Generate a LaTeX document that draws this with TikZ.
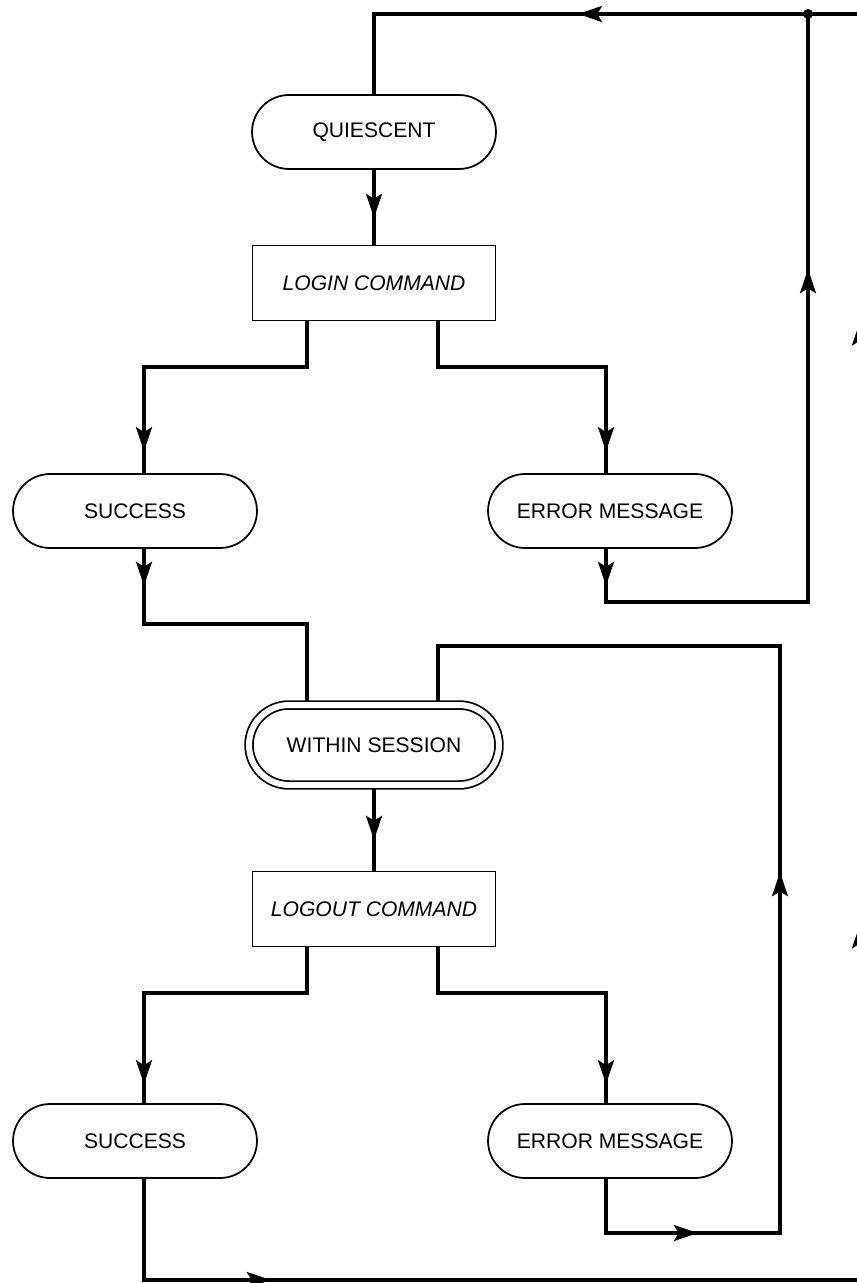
\documentclass[tikz,border=0pt]{standalone}
\usepackage{fontspec}
\setmainfont{Liberation Sans}
\usepackage{tikz}
\usetikzlibrary{arrows.meta}
\usetikzlibrary{decorations.markings}
\usetikzlibrary{backgrounds}

\begin{document}
\begin{tikzpicture}[
    x=0.02cm, y=-0.02cm,
    >={Stealth[length=0.48cm, width=0.32cm, inset=0.1cm]},
    flow/.style={line width=0.07cm},
    arrowat/.style={postaction={decorate, decoration={markings, mark=at position #1 with {\arrow{>}}}}},
    state/.style={draw, line width=0.035cm, fill=white, rounded corners=0.74cm,
      minimum width=4.88cm, minimum height=1.48cm, inner sep=0pt, font=\fontsize{12}{14}\selectfont},
    cmd/.style={draw, line width=0.03cm, fill=white, minimum width=4.86cm,
      minimum height=1.5cm, inner sep=0pt, font=\fontsize{12}{14}\selectfont\itshape},
  ]
  \useasboundingbox (0,0) rectangle (856,1283);

  \node[state] (quiescent) at (374,132) {QUIESCENT};
  \node[cmd] (login) at (374,283) {LOGIN COMMAND};
  \node[state] (okin) at (135,511) {SUCCESS};
  \node[state] (errin) at (610,511) {ERROR MESSAGE};
  \node[state, double, double distance=0.12cm, rounded corners=0.8cm,
    minimum width=5cm, minimum height=1.6cm] (session) at (374,745) {WITHIN SESSION};
  \node[cmd] (logout) at (374,909) {LOGOUT COMMAND};
  \node[state] (okout) at (135,1141) {SUCCESS};
  \node[state] (errout) at (610,1141) {ERROR MESSAGE};

  \coordinate (join) at (808,14);
  \coordinate (edgeT) at (860,14);
  \coordinate (edgeB) at (860,1280);
  \coordinate (loginL) at (307,367);
  \coordinate (loginR) at (438,367);
  \coordinate (okinB) at (144,624);
  \coordinate (errinB) at (606,602);
  \coordinate (sessR) at (780,646);
  \coordinate (logoutL) at (307,993);
  \coordinate (logoutR) at (438,993);
  \coordinate (erroutB) at (606,1233);
  \coordinate (okoutB) at (144,1280);

  \begin{pgfonlayer}{background}
    % login
    \draw[flow, arrowat=4.6cm] (join) -| (quiescent.north);
    \draw[flow, arrowat=0.96cm] (quiescent) -- (login);
    \draw[flow, arrowat=5.86cm] (login.south -| loginL) -- (loginL) -| (okin.north -| okinB);
    \draw[flow, arrowat=5.96cm] (login.south -| loginR) -- (loginR) -| (errin.north -| errinB);
    \draw[flow, arrowat=0.74cm] (okin.south -| okinB) -- (okinB) -| (session.north -| loginL);
    \draw[flow, arrowat=0.74cm, arrowat=11.76cm] (errin.south -| errinB) -- (errinB) -| (join);
    % logout
    \draw[flow, arrowat=1.08cm] (session) -- (logout);
    \draw[flow, arrowat=6cm] (logout.south -| logoutL) -- (logoutL) -| (okout.north -| okinB);
    \draw[flow, arrowat=6.1cm] (logout.south -| logoutR) -- (logoutR) -| (errout.north -| errinB);
    \draw[flow, arrowat=2.92cm, arrowat=11.78cm] (errout.south -| errinB) -- (erroutB)
      -- (sessR |- erroutB) -- (sessR) -| (session.north -| loginR);
    \draw[flow, arrowat=4.56cm, arrowat=23.46cm, arrowat=35.52cm] (okout.south -| okinB)
      -- (okoutB) -- (edgeB) -- (edgeT) -- (join);
    \fill (join) circle (0.1cm);
  \end{pgfonlayer}
\end{tikzpicture}
\end{document}
